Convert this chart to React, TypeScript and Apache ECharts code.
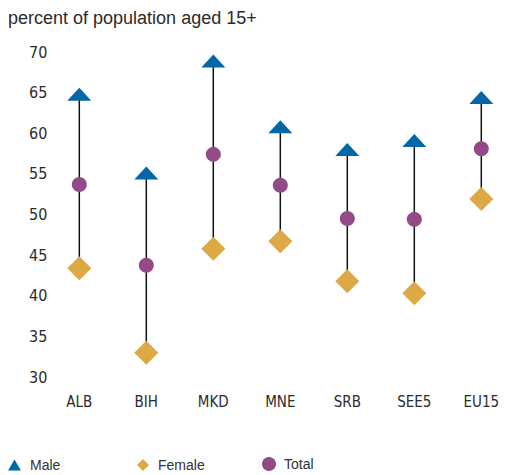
import React, { useEffect, useRef } from "react";
import * as echarts from "echarts";

const categories = ["ALB", "BIH", "MKD", "MNE", "SRB", "SEE5", "EU15"];
const male = [64.8, 55.1, 68.9, 60.8, 58.0, 59.1, 64.4];
const female = [43.4, 33.0, 45.8, 46.7, 41.8, 40.3, 51.9];
const total = [53.7, 43.75, 57.4, 53.6, 49.5, 49.4, 58.1];
const yTicks = { min: 30, max: 70, interval: 5 };
const titleText = "percent of population aged 15+";

const BLUE = "#0068a9";
const GOLD = "#dca944";
const PURPLE = "#934a87";
const NARROW = "'Liberation Sans Narrow', 'Arial Narrow', 'DejaVu Sans Condensed', sans-serif";
const SANS = "'Liberation Sans', Arial, sans-serif";

export default function App() {
  const ref = useRef<HTMLDivElement>(null);
  useEffect(() => {
    if (!ref.current) return;
    const chart = echarts.init(ref.current, undefined, { renderer: "svg" });
    chart.setOption({
      animation: false,
      backgroundColor: "#ffffff",
      title: {
        text: titleText,
        left: 0,
        top: 1,
        padding: 0,
        textStyle: { fontFamily: SANS, fontSize: 18, fontWeight: "normal", color: "#2b2b2b" },
      },
      legend: [
        { data: ["Male"], left: 0, top: 450, padding: 0, icon: "triangle", itemWidth: 13, itemHeight: 11,
          textStyle: { fontFamily: SANS, fontSize: 14, color: "#333", padding: [0, 0, 0, 4] } },
        { data: ["Female"], left: 129, top: 450, padding: 0, icon: "diamond", itemWidth: 12, itemHeight: 12,
          textStyle: { fontFamily: SANS, fontSize: 14, color: "#333", padding: [0, 0, 0, 4] } },
        { data: ["Total"], left: 254, top: 449, padding: 0, icon: "circle", itemWidth: 14, itemHeight: 14,
          textStyle: { fontFamily: SANS, fontSize: 14, color: "#333", padding: [0, 0, 0, 3] } },
      ],
      grid: { left: 71.3, right: 28.7, top: 44, bottom: 98 },
      xAxis: {
        type: "category",
        data: categories,
        boundaryGap: false,
        axisLine: { show: false },
        axisTick: { show: false },
        axisLabel: { margin: 17, fontFamily: NARROW, fontSize: 15, color: "#2b2b2b" },
        splitLine: { show: false },
      },
      yAxis: {
        type: "value",
        min: yTicks.min,
        max: yTicks.max,
        interval: yTicks.interval,
        axisLine: { show: false },
        axisTick: { show: false },
        splitLine: { show: false },
        axisLabel: { margin: 32, fontFamily: NARROW, fontSize: 16, color: "#2b2b2b" },
      },
      series: [
        {
          type: "custom",
          name: "range",
          silent: true,
          data: categories.map((_, i) => [i, female[i], male[i]]),
          renderItem: (params: any, api: any) => {
            const p1 = api.coord([api.value(0), api.value(1)]);
            const p2 = api.coord([api.value(0), api.value(2)]);
            return {
              type: "line",
              shape: { x1: p1[0], y1: p1[1], x2: p2[0], y2: p2[1] },
              style: { stroke: "#111", lineWidth: 1.5 },
            };
          },
          z: 1,
        },
        {
          type: "scatter", name: "Male", data: male, symbol: "triangle", symbolSize: [24, 13],
          itemStyle: { color: BLUE, opacity: 1 }, z: 3,
        },
        {
          type: "scatter", name: "Female", data: female, symbol: "diamond", symbolSize: [24, 24],
          itemStyle: { color: GOLD, opacity: 1 }, z: 3,
        },
        {
          type: "scatter", name: "Total", data: total, symbol: "circle", symbolSize: 15,
          itemStyle: { color: PURPLE, opacity: 1 }, z: 4,
        },
      ],
    });
    return () => chart.dispose();
  }, []);
  return <div ref={ref} style={{ width: 502, height: 467 }} />;
}
